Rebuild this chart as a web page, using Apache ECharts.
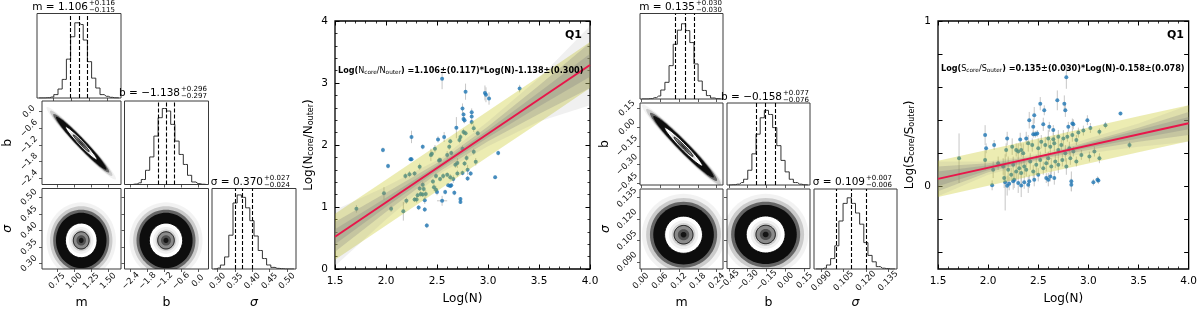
<!DOCTYPE html>
<html><head><meta charset="utf-8">
<script src="https://cdn.jsdelivr.net/npm/echarts@6/dist/echarts.min.js"></script>
<style>html,body{margin:0;padding:0;background:#fff}#c{width:1200px;height:310px}</style>
</head><body><div id="c"></div>
<script>
// ================= DATA =================
// --- Corner plot 1 (Q1, N_core/N_outer) ---
const q1_range_m = [0.53, 1.69];
const q1_range_b = [-2.62, 0.38];
const q1_range_s = [0.284, 0.526];
const q1_ticks_m = [0.75, 1.00, 1.25, 1.50];
const q1_ticks_b = [-2.4, -1.8, -1.2, -0.6, 0.0];
const q1_ticks_s = [0.30, 0.35, 0.40, 0.45, 0.50];
const q1_q_m = [1.106, 0.115, 0.116];   // median, minus, plus
const q1_q_b = [-1.138, 0.297, 0.296];
const q1_q_s = [0.370, 0.024, 0.027];
const q1_hist_m = [0,0,0.3,1.2,4,10.6,22,46,72.5,89,87,68.6,43,23.5,11.8,4,2,0.8,0.2,0];
const q1_hist_b = [0,0,0.5,2,6,17,33,58,80,91,88,72,52,36,24,11,3,1,0.3,0];
const q1_hist_s = [0,1.2,4.9,15,42,82,92,89,76,60,41,23,13,5,2,0.8,0.4,0,0,0];
// 2D posterior shapes: [centerX, centerY, sdX, sdY, correlation]
const q1_mb = [1.106, -1.138, 0.116, 0.297, -0.975];
const q1_ms = [1.106, 0.370, 0.116, 0.026, 0.0];
const q1_bs = [-1.138, 0.370, 0.297, 0.026, 0.0];

// --- Corner plot 2 (Q1, S_core/S_outer) ---
const q2_range_m = [-0.003, 0.260];
const q2_range_b = [-0.464, 0.193];
const q2_range_s = [0.085, 0.141];
const q2_ticks_m = [0.00, 0.06, 0.12, 0.18, 0.24];
const q2_ticks_b = [-0.45, -0.30, -0.15, 0.00, 0.15];
const q2_ticks_s = [0.090, 0.105, 0.120, 0.135];
const q2_q_m = [0.135, 0.030, 0.030];
const q2_q_b = [-0.158, 0.076, 0.077];
const q2_q_s = [0.109, 0.006, 0.007];
const q2_hist_m = [0,0,0.4,1.6,3.5,10.5,19.5,39,64,80.5,88,80,66,41,21,10,4,1.2,0.4,0];
const q2_hist_b = [0,0.3,1,3,7,18,38,62,82,91,86,70,48,30,16,7,3,1,0.3,0];
const q2_hist_s = [0,0,1,5,13,29,60,82,89,82,70,56,33,17,9,3,1,0.5,0,0];
const q2_mb = [0.135, -0.158, 0.030, 0.077, -0.975];
const q2_ms = [0.135, 0.109, 0.030, 0.0065, 0.0];
const q2_bs = [-0.158, 0.109, 0.077, 0.0065, 0.0];

// --- Scatter 1: Log(N) vs Log(Ncore/Nouter) ---
const q1_logN = [2.55,2.78,2.97,2.98,3.01,3.31,2.75,2.84,2.76,2.76,2.77,2.84,2.69,2.25,2.51,2.57,2.36,1.97,2.24,2.25,2.02,
 2.84,2.86,2.76,2.78,2.90,2.73,2.72,2.63,2.48,2.62,2.44,2.45,2.52,2.60,2.64,2.33,2.70,2.68,2.79,2.88,2.77,2.19,2.23,2.28,2.49,2.53,2.56,2.60,2.63,2.66,2.70,2.75,2.80,2.46,2.47,2.36,2.33,2.37,2.39,2.36,2.34,2.31,2.49,2.50,2.28,2.30,2.20,2.38,2.05,2.17,1.98,1.71,2.75,2.86,2.53,
 3.10,2.83,2.80,3.07,2.61,2.63,2.64,2.58,2.67,2.73,2.73,2.55,2.32,2.38,2.40];
const q1_ratio = [3.07,2.86,2.84,2.81,2.75,2.91,2.59,2.53,2.49,2.42,2.40,2.46,2.28,2.13,2.09,2.13,1.97,1.92,1.77,1.77,1.66,
 2.37,2.27,2.21,2.19,2.19,2.13,2.08,2.06,1.94,1.97,1.84,1.86,1.75,1.84,1.87,1.65,1.71,1.68,1.79,1.73,1.70,1.50,1.53,1.54,1.50,1.45,1.50,1.52,1.48,1.45,1.54,1.55,1.60,1.41,1.32,1.36,1.30,1.29,1.21,1.20,1.21,1.19,1.28,1.24,1.12,1.12,1.10,1.11,0.97,0.93,1.22,0.97,1.94,1.89,1.76,
 1.87,1.54,1.46,1.48,1.35,1.34,1.35,1.24,1.23,1.13,1.08,1.10,0.99,0.96,0.70];
const q1_err = [0.17,0.13,0.12,0.12,0.10,0.06,0.08,0.06,0.04,0.06,0.05,0.05,0.17,0.10,0.05,0.08,0.04,0.04,0.03,0.03,0.04,
 0.05,0.06,0.05,0.04,0.04, 0.05,0.05,0.04,0.06,0.05, 0.10,0.05,0.05,0.06,0.04, 0.05,0.08,0.05,0.05,0.06, 0.04,0.05,0.05,0.04,0.05, 0.04,0.05,0.04,0.05,0.06, 0.05,0.04,0.08,0.04,0.06, 0.05,0.04,0.05,0.06,0.04, 0.05,0.04,0.06,0.05,0.04, 0.05,0.05,0.06,0.05,0.15, 0.10,0.06,0.05,0.05,0.04,
 0.04,0.04,0.04,0.03,0.03,0.03,0.03,0.04,0.04,0.03,0.03,0.08,0.04,0.04,0.04];
const q1_xerr = [0,0,0,0,0,0,0,0,0,0,0,0,0,0,0,0,0,0,0,0,0,
 0,0,0,0,0,0,0,0,0,0,0,0,0,0,0,0,0,0,0,0,0,0,0,0,0,0,0,0,0,0,0,0,0,0,0,0,0,0,0,0,0,0,0,0,0,0,0,0,0,0,0,0,0,0,0,
 0,0,0,0,0,0,0,0,0,0,0,0.05,0,0,0];
const q1_fit = [[1.5, 0.52], [4.0, 3.29]];
const q1_band_x = [1.5, 2.0, 2.55, 3.0, 3.5, 4.0];
const q1_yel_lo = [0.15, 0.70, 1.31, 1.81, 2.36, 2.92];
const q1_yel_hi = [0.89, 1.44, 2.05, 2.55, 3.10, 3.66];
const q1_g1_lo = [0.05, 0.80, 1.56, 1.98, 2.38, 2.64];
const q1_g1_hi = [0.95, 1.33, 1.80, 2.38, 3.08, 3.92];
const q1_g2_lo = [0.28, 0.92, 1.60, 2.06, 2.50, 2.92];
const q1_g2_hi = [0.76, 1.23, 1.76, 2.30, 2.96, 3.65];
const q1_g3_lo = [0.40, 1.00, 1.64, 2.12, 2.62, 3.10];
const q1_g3_hi = [0.64, 1.15, 1.72, 2.24, 2.85, 3.47];

// --- Scatter 2: Log(N) vs Log(Score/Souter) ---
const q2_logN = [2.78,2.69,2.52,2.76,2.56,2.77,2.46,3.32,2.41,2.55,2.84,2.85,2.99,2.45,2.61,2.80,2.65,2.45,2.47,2.49,1.97,2.19,2.32,2.38,2.06,1.98,
 2.90,2.95,3.02,3.11,3.17,2.60,2.65,2.70,2.75,2.79,2.84,2.88,1.71,1.97,2.18,2.24,2.28,2.30,2.33,2.35,2.40,2.44,2.50,2.53,2.57,2.62,2.66,2.70,2.73,2.77,2.81,2.85,3.01,3.06,3.11,3.41,2.10,2.15,2.20,2.23,2.25,2.28,2.31,2.33,2.36,2.38,2.42,2.45,2.48,2.52,2.55,2.58,2.60,2.63,2.67,2.70,2.74,2.78,2.82,2.88,2.93,2.05,2.16,2.26,2.50,
 2.04,2.17,2.19,2.21,2.25,2.30,2.33,2.36,2.40,2.41,2.46,2.58,2.60,2.62,2.66,2.83,2.83,3.05,3.09,3.10];
const q2_ratio = [0.66,0.52,0.50,0.50,0.46,0.46,0.43,0.44,0.40,0.375,0.38,0.375,0.40,0.36,0.36,0.36,0.34,0.315,0.315,0.32,0.31,0.29,0.284,0.29,0.25,0.23,
 0.325,0.337,0.353,0.33,0.37,0.29,0.285,0.30,0.29,0.30,0.31,0.28,0.17,0.16,0.22,0.24,0.22,0.21,0.22,0.20,0.26,0.25,0.23,0.27,0.25,0.24,0.26,0.22,0.25,0.20,0.23,0.21,0.18,0.21,0.17,0.25,0.14,0.12,0.10,0.07,0.13,0.09,0.11,0.08,0.12,0.10,0.15,0.09,0.13,0.16,0.11,0.14,0.17,0.12,0.15,0.13,0.16,0.12,0.17,0.15,0.19,0.10,0.05,0.04,0.07,
 0.006,0.024,0.004,0.016,0.03,0.02,0.005,0.025,0.01,0.03,0.04,0.05,0.04,0.06,0.05,0.03,0.01,0.025,0.04,0.035];
const q2_err = [0.07,0.06,0.04,0.05,0.03,0.04,0.05,0.01,0.05,0.04,0.03,0.03,0.03,0.05,0.03,0.03,0.03,0.02,0.02,0.02,0.06,0.04,0.04,0.04,0.03,0.03,
 0.03,0.03,0.03,0.02,0.02, 0.05,0.04,0.04,0.05,0.03, 0.04,0.03,0.15,0.06,0.04, 0.05,0.04,0.05,0.04,0.06, 0.05,0.04,0.06,0.04,0.05, 0.04,0.05,0.04,0.03,0.05, 0.04,0.03,0.03,0.03,0.03, 0.02,0.04,0.05,0.08,0.04, 0.05,0.06,0.04,0.07,0.05, 0.04,0.05,0.04,0.06,0.05, 0.04,0.05,0.04,0.05,0.04, 0.05,0.04,0.05,0.04,0.03, 0.03,0.05,0.06,0.05,0.04,
 0.03,0.17,0.06,0.04,0.05,0.06,0.07,0.04,0.05,0.04,0.04,0.03,0.04,0.03,0.04,0.06,0.04,0.02,0.02,0.02];
const q2_fit = [[1.5, 0.045], [4.0, 0.382]];
const q2_band_x = [1.5, 2.0, 2.55, 3.0, 3.5, 4.0];
const q2_yel_lo = [-0.064, 0.003, 0.077, 0.138, 0.206, 0.273];
const q2_yel_hi = [0.154, 0.221, 0.295, 0.356, 0.424, 0.491];
const q2_g1_lo = [-0.06, 0.07, 0.160, 0.20, 0.24, 0.27];
const q2_g1_hi = [0.15, 0.15, 0.200, 0.29, 0.38, 0.49];
const q2_g2_lo = [-0.03, 0.085, 0.168, 0.22, 0.27, 0.31];
const q2_g2_hi = [0.12, 0.14, 0.190, 0.27, 0.355, 0.45];
const q2_g3_lo = [0.00, 0.097, 0.174, 0.233, 0.29, 0.345];
const q2_g3_hi = [0.09, 0.128, 0.184, 0.26, 0.34, 0.42];
const q2_yticks = [-0.4, -0.2, 0, 0.2, 0.4, 0.6, 0.8, 1.0];
const q2_ylabels = [0, 1];

// ================= BUILD =================
const FONT = 'DejaVu Sans';
const grids = [], xAxes = [], yAxes = [], series = [], graphics = [];
const addGrid = g => (grids.push(g), grids.length - 1);
const addX = a => (xAxes.push(a), xAxes.length - 1);
const addY = a => (yAxes.push(a), yAxes.length - 1);
function fmt(v, d) { if (Math.abs(v) < 1e-9) v = 0; return v.toFixed(d).replace('-', '\u2212'); }

function cAxis(g, range, ticks, dec, showLab, isX, name) {
  const a = {
    gridIndex: g, type: 'value', min: range[0], max: range[1],
    splitLine: { show: false }, axisLine: { show: false, onZero: false },
    axisTick: { show: true, customValues: ticks, length: 3, lineStyle: { color: '#333', width: 0.8 } },
    axisLabel: { show: showLab, customValues: ticks, rotate: 45, align: 'center', verticalAlign: 'middle',
      margin: isX ? 12 : 13, fontSize: 8.5, fontFamily: FONT, color: '#111', formatter: v => fmt(v, dec) }
  };
  if (name) {
    a.name = name; a.nameLocation = 'middle'; a.nameGap = isX ? 27 : 28;
    a.nameTextStyle = { fontSize: 12.5, fontFamily: FONT, color: '#000', fontStyle: name === 'σ' ? 'italic' : 'normal' };
  }
  return a;
}

function ellipse(api, p, k) {
  const [mx, my, sx, sy, r] = p; const s = Math.sqrt(1 - r * r); const pts = [];
  for (let i = 0; i < 72; i++) {
    const t = i / 72 * 2 * Math.PI, u = Math.cos(t), w = Math.sin(t);
    pts.push(api.coord([mx + k * sx * u, my + k * sy * (r * u + s * w)]));
  }
  return pts;
}
const LAYERS = [
  [4.4, 'rgba(0,0,0,0.05)', null], [3.95, 'rgba(0,0,0,0.16)', null], [3.55, 'rgba(0,0,0,0.5)', null],
  [3.2, '#0d0d0d', null], [2.0, '#ffffff', '#000'], [1.55, '#f0f0f0', null], [1.25, '#d2d2d2', null],
  [1.0, '#8a8a8a', '#000'], [0.6, '#505050', null], [0.3, '#151515', null]
];
function densityRender(p) {
  return function (params, api) {
    return { type: 'group', children: LAYERS.map(([k, fill, stroke]) => ({
      type: 'polygon', shape: { points: ellipse(api, p, k) },
      style: { fill: fill, stroke: stroke || null, lineWidth: stroke ? 0.9 : 0 } })) };
  };
}

function corner(c) {
  for (let r = 0; r < 3; r++) {
    for (let k = 0; k <= r; k++) {
      const g = addGrid({ left: c.cols[k], top: c.rows[r][0], width: c.w, height: c.rows[r][1] - c.rows[r][0],
        show: true, borderColor: '#3a3a3a', borderWidth: 1, backgroundColor: '#fff' });
      const xi = addX(cAxis(g, c.range[k], c.ticks[k], c.dec[k], r === 2, true, r === 2 ? c.names[k] : null));
      if (k === r) {
        const yi = addY({ gridIndex: g, type: 'value', min: 0, max: 100, show: false, axisLine: { onZero: false } });
        const h = c.hist[k], lo = c.range[k][0], hi = c.range[k][1], bw = (hi - lo) / h.length;
        const q = c.q[k];
        series.push({ type: 'line', xAxisIndex: xi, yAxisIndex: yi, step: 'middle', symbol: 'none', z: 3,
          data: h.map((v, i) => [lo + (i + 0.5) * bw, v]),
          lineStyle: { color: '#333', width: 1 },
          markLine: { silent: true, symbol: ['none', 'none'], label: { show: false },
            lineStyle: { type: [4, 2], color: '#000', width: 1.1 },
            data: [{ xAxis: q[0] - q[1] }, { xAxis: q[0] }, { xAxis: q[0] + q[2] }] } });
      } else {
        const yi = addY(cAxis(g, c.range[r], c.ticks[r], c.dec[r], k === 0, false, k === 0 ? c.names[r] : null));
        series.push({ type: 'custom', xAxisIndex: xi, yAxisIndex: yi, clip: true, z: 2,
          data: [[c.range[k][0], c.range[r][0]]], renderItem: densityRender(c.pairs[r][k]) });
      }
    }
  }
  c.titles.forEach(t => {
    graphics.push({ type: 'text', x: t.x, y: t.y, style: { text: t.main, font: '10.5px "DejaVu Sans"',
      fill: '#000', textAlign: 'right', textVerticalAlign: 'middle', align: 'right', verticalAlign: 'middle' } });
    graphics.push({ type: 'text', x: t.x + 1, y: t.y - 3.6, style: { text: t.sup, font: '7px "DejaVu Sans"',
      fill: '#000', textAlign: 'left', textVerticalAlign: 'middle', align: 'left', verticalAlign: 'middle' } });
    graphics.push({ type: 'text', x: t.x + 1, y: t.y + 3.6, style: { text: t.sub, font: '7px "DejaVu Sans"',
      fill: '#000', textAlign: 'left', textVerticalAlign: 'middle', align: 'left', verticalAlign: 'middle' } });
  });
}

corner({
  cols: [37, 124.5, 212], w: 84, rows: [[13.5, 98], [101, 184.5], [188.5, 271]],
  range: [q1_range_m, q1_range_b, q1_range_s], ticks: [q1_ticks_m, q1_ticks_b, q1_ticks_s], dec: [2, 1, 2],
  names: ['m', 'b', 'σ'], hist: [q1_hist_m, q1_hist_b, q1_hist_s], q: [q1_q_m, q1_q_b, q1_q_s],
  pairs: [[], [q1_mb], [q1_ms, q1_bs]],
  titles: [
    { x: 88, y: 7, main: 'm = 1.106', sup: '+0.116', sub: '\u22120.115' },
    { x: 180, y: 93, main: 'b = \u22121.138', sup: '+0.296', sub: '\u22120.297' },
    { x: 263, y: 182, main: 'σ = 0.370', sup: '+0.027', sub: '\u22120.024' }]
});
corner({
  cols: [640, 727, 814], w: 83, rows: [[13.5, 99], [103, 185], [189, 271]],
  range: [q2_range_m, q2_range_b, q2_range_s], ticks: [q2_ticks_m, q2_ticks_b, q2_ticks_s], dec: [2, 2, 3],
  names: ['m', 'b', 'σ'], hist: [q2_hist_m, q2_hist_b, q2_hist_s], q: [q2_q_m, q2_q_b, q2_q_s],
  pairs: [[], [q2_mb], [q2_ms, q2_bs]],
  titles: [
    { x: 695, y: 7, main: 'm = 0.135', sup: '+0.030', sub: '\u22120.030' },
    { x: 782, y: 97, main: 'b = \u22120.158', sup: '+0.077', sub: '\u22120.076' },
    { x: 865, y: 182, main: 'σ = 0.109', sup: '+0.007', sub: '\u22120.006' }]
});

function bandSeries(xi, yi, xs, lo, hi, fill, z) {
  return { type: 'custom', xAxisIndex: xi, yAxisIndex: yi, clip: true, z: z, silent: true,
    data: [[xs[0], lo[0]]],
    renderItem: (p, api) => {
      const up = xs.map((x, i) => api.coord([x, hi[i]]));
      const dn = xs.map((x, i) => api.coord([x, lo[i]])).reverse();
      return { type: 'polygon', shape: { points: up.concat(dn) }, style: { fill: fill } };
    } };
}

function scatterPanel(c) {
  const g = addGrid({ left: c.left, top: c.top, width: c.w, height: c.h, show: true,
    borderColor: '#000', borderWidth: 1.3, backgroundColor: 'transparent' });
  const xBase = pos => ({ gridIndex: g, type: 'value', position: pos, min: 1.5, max: 4.0, interval: 0.5,
    splitLine: { show: false }, axisLine: { show: false, onZero: false },
    axisTick: { show: true, inside: true, length: 4.5, lineStyle: { color: '#000', width: 1 } },
    minorTick: { show: true, splitNumber: 5, length: 2.5, lineStyle: { color: '#000', width: 0.8 } },
    axisLabel: { show: pos === 'bottom', fontSize: 10.5, fontFamily: FONT, color: '#000', margin: 7, formatter: v => v.toFixed(1) } });
  const xb = addX(Object.assign(xBase('bottom'), { name: 'Log(N)', nameLocation: 'middle', nameGap: 24,
    nameTextStyle: { fontSize: 12, fontFamily: FONT, color: '#000' } }));
  addX(xBase('top'));
  const yBase = pos => Object.assign({ gridIndex: g, type: 'value', position: pos, min: c.yr[0], max: c.yr[1],
    splitLine: { show: false }, axisLine: { show: false, onZero: false },
    axisLabel: { show: pos === 'left', fontSize: 10.5, fontFamily: FONT, color: '#000', margin: 7, formatter: v => String(Math.round(v)) } },
    c.yAxisExtra(pos));
  const yl = addY(Object.assign(yBase('left'), { name: c.yname, nameLocation: 'middle', nameGap: c.ynameGap,
    nameTextStyle: { fontFamily: FONT, color: '#000', rich: {
      a: { fontSize: 12, fontFamily: FONT, color: '#000' },
      s: { fontSize: 8, fontFamily: FONT, color: '#000', verticalAlign: 'bottom' } } } }));
  addY(yBase('right'));
  // error bars
  series.push({ type: 'custom', xAxisIndex: xb, yAxisIndex: yl, clip: true, z: 1, silent: true,
    encode: { x: 0, y: 1 },
    data: c.x.map((v, i) => [v, c.y[i], c.err[i], c.xerr ? c.xerr[i] : 0]),
    renderItem: (p, api) => {
      const x = api.value(0), y = api.value(1), e = api.value(2), ex = api.value(3);
      const a = api.coord([x, y - e]), b = api.coord([x, y + e]);
      const ch = [{ type: 'line', shape: { x1: a[0], y1: a[1], x2: b[0], y2: b[1] }, style: { stroke: '#c6c6c6', lineWidth: 1 } }];
      if (ex > 0) {
        const l = api.coord([x - ex, y]), r = api.coord([x + ex, y]);
        ch.push({ type: 'line', shape: { x1: l[0], y1: l[1], x2: r[0], y2: r[1] }, style: { stroke: '#c6c6c6', lineWidth: 1 } });
      }
      return { type: 'group', children: ch };
    } });
  series.push({ type: 'scatter', xAxisIndex: xb, yAxisIndex: yl, z: 2, symbol: 'circle', symbolSize: 4,
    itemStyle: { color: '#1f77b4' }, data: c.x.map((v, i) => [v, c.y[i]]) });
  series.push(bandSeries(xb, yl, c.bx, c.yel[0], c.yel[1], 'rgba(191,191,0,0.3)', 3));
  series.push(bandSeries(xb, yl, c.bx, c.g1[0], c.g1[1], 'rgba(128,128,128,0.12)', 4));
  series.push(bandSeries(xb, yl, c.bx, c.g2[0], c.g2[1], 'rgba(128,128,128,0.28)', 4));
  series.push(bandSeries(xb, yl, c.bx, c.g3[0], c.g3[1], 'rgba(128,128,128,0.30)', 4));
  series.push({ type: 'line', xAxisIndex: xb, yAxisIndex: yl, z: 6, symbol: 'none', data: c.fit,
    lineStyle: { color: '#e8164a', width: 2 } });
  graphics.push({ type: 'text', x: c.left + 3, y: c.annY, z: 100, style: { text: c.ann,
    textVerticalAlign: 'middle', verticalAlign: 'middle', rich: {
      b: { fontSize: 8.1, fontWeight: 'bold', fontFamily: FONT, color: '#000' },
      n: { fontSize: 8.1, fontFamily: FONT, color: '#000' },
      s: { fontSize: 5.8, fontFamily: FONT, color: '#000', verticalAlign: 'bottom' } } } });
  graphics.push({ type: 'text', x: c.left + c.w - 8, y: 35, z: 100, style: { text: 'Q1',
    font: 'bold 11px "DejaVu Sans"', fill: '#000', textAlign: 'right', align: 'right', textVerticalAlign: 'middle', verticalAlign: 'middle' } });
}

scatterPanel({
  left: 335, top: 21, w: 255, h: 253, yr: [0, 4],
  yAxisExtra: pos => ({ interval: 1,
    axisTick: { show: true, inside: true, length: 4.5, lineStyle: { color: '#000', width: 1 } },
    minorTick: { show: true, splitNumber: 5, length: 2.5, lineStyle: { color: '#000', width: 0.8 } } }),
  yname: '{a|Log(N}{s|core}{a|/N}{s|outer}{a|)}', ynameGap: 20,
  x: q1_logN, y: q1_ratio, err: q1_err, xerr: q1_xerr, fit: q1_fit, bx: q1_band_x,
  yel: [q1_yel_lo, q1_yel_hi], g1: [q1_g1_lo, q1_g1_hi], g2: [q1_g2_lo, q1_g2_hi], g3: [q1_g3_lo, q1_g3_hi],
  annY: 71, ann: '{b|Log(}{n|N}{s|core}{n|/N}{s|outer}{b|) =1.106±(0.117)*Log(N)-1.138±(0.300)}'
});
scatterPanel({
  left: 938, top: 21, w: 254, h: 254, yr: [-0.5, 1.0],
  yAxisExtra: pos => ({
    axisTick: { show: true, inside: true, length: 4.5, customValues: q2_yticks, lineStyle: { color: '#000', width: 1 } },
    axisLabel: { show: pos === 'left', customValues: q2_ylabels, fontSize: 10.5, fontFamily: FONT, color: '#000', margin: 7, formatter: v => String(Math.round(v)) } }),
  yname: '{a|Log(S}{s|core}{a|/S}{s|outer}{a|)}', ynameGap: 22,
  x: q2_logN, y: q2_ratio, err: q2_err, xerr: null, fit: q2_fit, bx: q2_band_x,
  yel: [q2_yel_lo, q2_yel_hi], g1: [q2_g1_lo, q2_g1_hi], g2: [q2_g2_lo, q2_g2_hi], g3: [q2_g3_lo, q2_g3_hi],
  annY: 69, ann: '{b|Log(}{n|S}{s|core}{n|/S}{s|outer}{b|) =0.135±(0.030)*Log(N)-0.158±(0.078)}'
});

const chart = echarts.init(document.getElementById('c'), null, { renderer: 'canvas' });
chart.setOption({
  animation: false, backgroundColor: '#fff',
  grid: grids, xAxis: xAxes, yAxis: yAxes, series: series, graphic: { elements: graphics }
});
</script>
</body></html>
